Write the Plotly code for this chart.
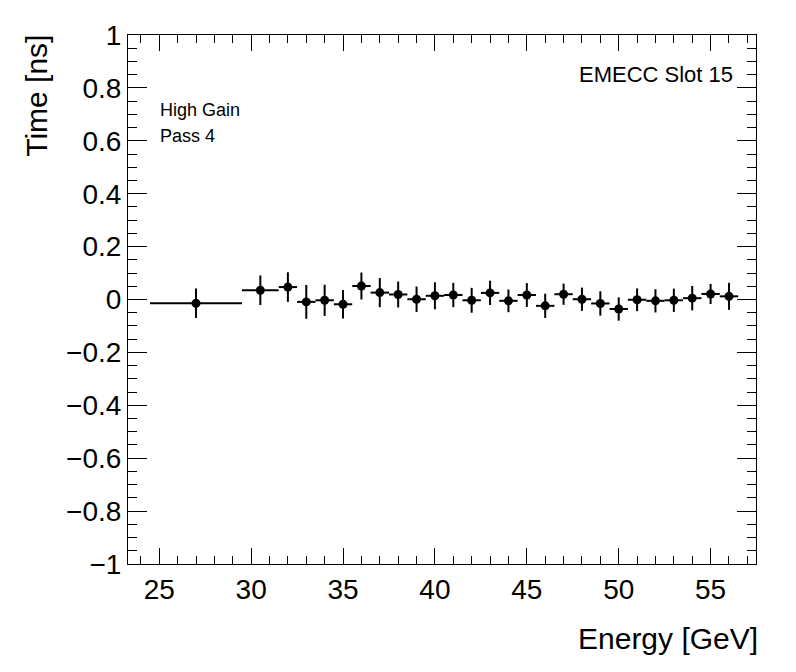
import plotly.graph_objects as go

# bin centres, half widths, mean time and its error
energy = [27, 30.5, 32, 33, 34, 35, 36, 37, 38, 39, 40, 41, 42, 43, 44, 45,
          46, 47, 48, 49, 50, 51, 52, 53, 54, 55, 56]
energy_halfwidth = [2.5, 1.0] + [0.5] * 25
time_ns = [-0.014, 0.035, 0.047, -0.009, -0.003, -0.018, 0.051, 0.026, 0.019,
           0.001, 0.014, 0.017, -0.003, 0.025, -0.005, 0.017, -0.024, 0.020,
           0.001, -0.015, -0.036, -0.001, -0.005, -0.003, 0.005, 0.021, 0.012]
time_err = [0.056, 0.056, 0.056, 0.064, 0.059, 0.054, 0.051, 0.055, 0.049,
            0.048, 0.051, 0.046, 0.047, 0.046, 0.043, 0.045, 0.046, 0.040,
            0.044, 0.046, 0.044, 0.043, 0.044, 0.044, 0.046, 0.038, 0.051]

FONT = "Liberation Sans, Arial, Helvetica, sans-serif"

fig = go.Figure()
fig.add_trace(go.Scatter(
    x=energy, y=time_ns,
    mode='markers',
    marker=dict(color='black', size=9, symbol='circle'),
    error_x=dict(type='data', array=energy_halfwidth, color='black',
                 thickness=2, width=0),
    error_y=dict(type='data', array=time_err, color='black',
                 thickness=2, width=0),
    hoverinfo='x+y',
    showlegend=False))

axis_common = dict(
    showgrid=False, zeroline=False,
    showline=True, linecolor='black', linewidth=1, mirror='ticks',
    ticks='inside', tickcolor='black', tickwidth=1,
    tickfont=dict(family=FONT, size=28, color='black'),
)

# page body has an 8px margin, so the margins are shifted to compensate
fig.update_layout(
    width=796, height=672,
    margin=dict(l=120, r=48, t=25, b=116),
    paper_bgcolor='white', plot_bgcolor='white',
    font=dict(family=FONT, color='black'),
    xaxis=dict(range=[23.3, 57.47], tick0=25, dtick=5, ticklen=16,
               minor=dict(dtick=1, ticklen=8, ticks='inside', tickcolor='black'),
               **axis_common),
    yaxis=dict(range=[-1, 1], tick0=-1, dtick=0.2, ticklen=19,
               minor=dict(dtick=0.05, ticklen=9, ticks='inside', tickcolor='black'),
               **axis_common),
    annotations=[
        dict(text='Energy [GeV]', xref='paper', yref='paper', x=1.006, y=-0.105,
             xanchor='right', yanchor='top', showarrow=False,
             font=dict(family=FONT, size=30)),
        dict(text='Time [ns]', xref='paper', yref='paper', x=-0.145, y=1.004,
             xanchor='center', yanchor='top', textangle=-90, showarrow=False,
             font=dict(family=FONT, size=30)),
        dict(text='High Gain', xref='paper', yref='paper', x=0.048, y=0.859,
             xanchor='left', yanchor='middle', showarrow=False,
             font=dict(family=FONT, size=18)),
        dict(text='Pass 4', xref='paper', yref='paper', x=0.048, y=0.810,
             xanchor='left', yanchor='middle', showarrow=False,
             font=dict(family=FONT, size=18)),
        dict(text='EMECC Slot 15', xref='paper', yref='paper', x=0.9666, y=0.9256,
             xanchor='right', yanchor='middle', showarrow=False,
             font=dict(family=FONT, size=22)),
    ],
)

fig.write_html("out.html")
